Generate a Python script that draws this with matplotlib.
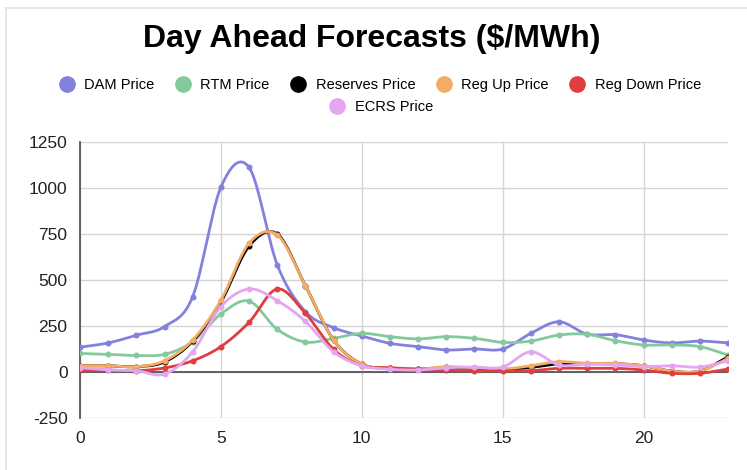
import numpy as np
import matplotlib.pyplot as plt
from matplotlib.lines import Line2D

plt.rcParams['font.family'] = ['Liberation Sans', 'DejaVu Sans']
plt.rcParams['axes.unicode_minus'] = False

# hourly forecasts, $/MWh
hours = np.arange(24)
dam = [135, 158, 200, 247, 410, 1004, 1112, 583, 328, 241, 196, 156,
       138, 120, 125, 125, 210, 273, 206, 203, 174, 158, 168, 158]
rtm = [101, 96, 90, 96, 165, 315, 385, 232, 163, 183, 210, 192,
       180, 192, 183, 161, 168, 201, 205, 170, 147, 147, 138, 92]
reserves = [34, 34, 29, 55, 168, 380, 684, 750, 469, 174, 43, 20,
            15, 25, 20, 14, 25, 45, 45, 45, 34, 5, 5, 82]
reg_up = [34, 34, 29, 61, 174, 390, 700, 745, 469, 174, 43, 20,
          15, 29, 23, 16, 34, 56, 47, 47, 34, 5, 5, 74]
reg_down = [11, 11, 7, 22, 61, 138, 270, 451, 319, 123, 34, 23,
            16, 11, 7, 7, 7, 20, 20, 20, 11, -7, -7, 16]
ecrs = [23, 11, 7, -11, 110, 355, 451, 388, 275, 110, 34, 15,
        11, 23, 27, 27, 110, 38, 42, 38, 29, 34, 27, 61]

names = ["DAM Price", "RTM Price", "Reserves Price", "Reg Up Price",
         "Reg Down Price", "ECRS Price"]
colors = ["#8381dd", "#84c99b", "#000000", "#f3ab66", "#de3e3e", "#e6a5f1"]
series = [dam, rtm, reserves, reg_up, reg_down, ecrs]


def smooth(x, y, n=20):
    # cubic hermite with central-difference tangents
    x = np.asarray(x, float)
    y = np.asarray(y, float)
    m = np.gradient(y, x)
    xs, ys = [], []
    for i in range(len(x) - 1):
        t = np.linspace(0, 1, n, endpoint=False)
        h = x[i + 1] - x[i]
        h00 = 2 * t**3 - 3 * t**2 + 1
        h10 = t**3 - 2 * t**2 + t
        h01 = -2 * t**3 + 3 * t**2
        h11 = t**3 - t**2
        xs.append(x[i] + t * h)
        ys.append(h00 * y[i] + h10 * h * m[i] + h01 * y[i + 1] + h11 * h * m[i + 1])
    xs.append([x[-1]])
    ys.append([y[-1]])
    return np.concatenate(xs), np.concatenate(ys)


fig = plt.figure(figsize=(7.47, 4.70), dpi=100)
ax = fig.add_axes([0.1071, 0.1106, 0.8675, 0.5873])

for i, (vals, c) in enumerate(zip(series, colors)):
    sx, sy = smooth(hours, vals)
    ax.plot(sx, sy, color=c, lw=2.0, zorder=3 + i)
    ax.plot(hours, vals, 'o', color=c, ms=3.3, zorder=3 + i)

ax.set_xlim(0, 23)
ax.set_ylim(-250, 1250)
ax.set_yticks(np.arange(-250, 1251, 250))
ax.set_xticks([0, 5, 10, 15, 20])
ax.grid(True, color="#d4d4d4", lw=1.0)
ax.axhline(0, color="#555555", lw=1.3, zorder=2)
for s in ["top", "right", "bottom"]:
    ax.spines[s].set_visible(False)
ax.spines["left"].set_color("#555555")
ax.spines["left"].set_linewidth(1.3)
ax.tick_params(length=0, labelsize=12.5, colors="#222222")
ax.tick_params(axis='y', pad=9)
ax.tick_params(axis='x', pad=9)

fig.text(0.497, 0.918, "Day Ahead Forecasts ($/MWh)", ha="center", va="center",
         fontsize=23, fontweight="bold")

handles = [Line2D([], [], marker='o', ls='none', color=c, ms=11) for c in colors]
fig.legend(handles[:5], names[:5], loc="center", bbox_to_anchor=(0.509, 0.819),
           ncol=5, frameon=False, fontsize=10.5, handletextpad=0.7,
           columnspacing=1.45, handlelength=1.0)
fig.legend(handles[5:], names[5:], loc="center", bbox_to_anchor=(0.511, 0.772),
           frameon=False, fontsize=10.5, handletextpad=0.7, handlelength=1.0)

# card border
fig.add_artist(Line2D([0.008, 1.0], [0.984, 0.984], color="#e2e2e2", lw=1.2))
fig.add_artist(Line2D([0.008, 0.008], [0.0, 0.984], color="#e2e2e2", lw=1.2))

fig.savefig("out.png", dpi=100)
